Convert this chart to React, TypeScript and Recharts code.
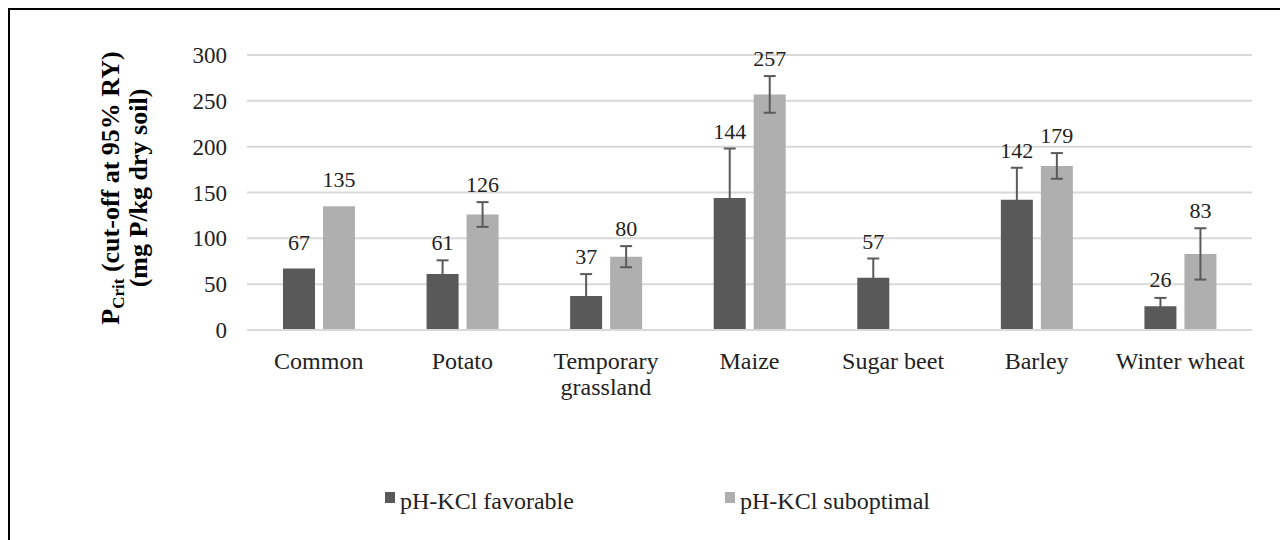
import { BarChart, Bar, XAxis, YAxis, CartesianGrid, ErrorBar, LabelList } from "recharts";

const categories = ["Common", "Potato", "Temporary grassland", "Maize", "Sugar beet", "Barley", "Winter wheat"];
const favorable = [67, 61, 37, 144, 57, 142, 26];
const suboptimal = [135, 126, 80, 257, null, 179, 83];
const favorableErr = [null, 15, 24, 54, 21, 35, 9];
const suboptimalErr = [null, 13.5, 11.5, 20, null, 14, 28];
const seriesNames = ["pH-KCl favorable", "pH-KCl suboptimal"];
const yTicks = [0, 50, 100, 150, 200, 250, 300];

const DARK = "#595959";
const LIGHT = "#afafaf";
const FONT = "'Liberation Serif', 'Times New Roman', serif";

const data = categories.map((name, i) => ({
  name,
  fav: favorable[i],
  sub: suboptimal[i],
  favErr: favorableErr[i],
  subErr: suboptimalErr[i],
}));

// split long category names into two lines at the middle space
function wrapLabel(s: string): string[] {
  if (s.length <= 14) return [s];
  const words = s.split(" ");
  const half = Math.ceil(words.length / 2);
  return [words.slice(0, half).join(" "), words.slice(half).join(" ")];
}

function CategoryTick(props: any) {
  const { x, y, payload } = props;
  const lines = wrapLabel(String(payload.value));
  return (
    <text x={x} y={y + 39} textAnchor="middle" fill="#222" style={{ fontSize: 24, fontFamily: FONT }}>
      {lines.map((l, i) => (
        <tspan key={i} x={x} dy={i === 0 ? 0 : 26}>
          {l}
        </tspan>
      ))}
    </text>
  );
}

// value label sits above the bar, or above the error bar when that reaches higher
function makeValueLabel(values: (number | null)[], errs: (number | null)[]) {
  return (props: any) => {
    const { viewBox, value } = props;
    if (value == null || !viewBox) return null;
    const { x, y, width, height } = viewBox;
    const i = values.indexOf(value);
    const perUnit = height / value;
    const err = (i >= 0 ? errs[i] : 0) ?? 0;
    const errTop = y - err * perUnit;
    const cy = Math.min(y - 26, errTop - 17);
    return (
      <text
        x={x + width / 2}
        y={cy + 7}
        textAnchor="middle"
        fill="#222"
        style={{ fontSize: 22, fontFamily: FONT }}
      >
        {value}
      </text>
    );
  };
}

function YTitle() {
  const cy = 178;
  return (
    <g fill="#000" style={{ fontFamily: FONT, fontWeight: "bold" }}>
      <text x={109} y={cy} textAnchor="middle" style={{ fontSize: 26 }} transform={`rotate(-90, 109, ${cy})`}>
        <tspan>P</tspan>
        <tspan style={{ fontSize: 17 }} dy={5}>Crit</tspan>
        <tspan dy={-5}> (cut-off at 95% RY)</tspan>
      </text>
      <text x={137} y={cy} textAnchor="middle" style={{ fontSize: 26 }} transform={`rotate(-90, 137, ${cy})`}>
        (mg P/kg dry soil)
      </text>
    </g>
  );
}

export default function App() {
  const legendColors = [DARK, LIGHT];
  const legendX = [375, 715];
  return (
    <div
      style={{
        position: "relative",
        width: 1280,
        height: 532,
        boxSizing: "border-box",
        borderTop: "2px solid #000",
        borderLeft: "2px solid #000",
        background: "#fff",
        fontFamily: FONT,
      }}
    >
      <BarChart
        width={1278}
        height={530}
        data={data}
        margin={{ top: 45, right: 36, bottom: 150, left: 0 }}
        barSize={32}
        barGap={8}
      >
        <CartesianGrid vertical={false} stroke="#d9d9d9" strokeWidth={2} />
        <XAxis
          dataKey="name"
          height={60}
          tickLine={false}
          tickSize={0}
          tickMargin={0}
          axisLine={{ stroke: "#d9d9d9", strokeWidth: 2 }}
          tick={<CategoryTick />}
          interval={0}
        />
        <YAxis
          width={237}
          domain={[0, 300]}
          ticks={yTicks}
          axisLine={false}
          tickLine={false}
          tickSize={0}
          tickMargin={20}
          tick={{ fontSize: 23, fontFamily: FONT, fill: "#222" }}
          label={{ content: () => <YTitle /> }}
        />
        <Bar dataKey="fav" name={seriesNames[0]} fill={DARK} isAnimationActive={false}>
          <ErrorBar dataKey="favErr" width={6} stroke="#5a5a5a" strokeWidth={2} />
          <LabelList dataKey="fav" content={makeValueLabel(favorable, favorableErr)} />
        </Bar>
        <Bar dataKey="sub" name={seriesNames[1]} fill={LIGHT} isAnimationActive={false}>
          <ErrorBar dataKey="subErr" width={6} stroke="#5a5a5a" strokeWidth={2} />
          <LabelList dataKey="sub" content={makeValueLabel(suboptimal, suboptimalErr)} />
        </Bar>
      </BarChart>
      <svg width={1278} height={60} style={{ position: "absolute", left: 0, top: 465 }}>
        {seriesNames.map((n, i) => (
          <g key={n}>
            <rect x={legendX[i]} y={17} width={10} height={11} fill={legendColors[i]} />
            <text x={legendX[i] + 15} y={34} fill="#222" style={{ fontSize: 24, fontFamily: FONT }}>
              {n}
            </text>
          </g>
        ))}
      </svg>
    </div>
  );
}
